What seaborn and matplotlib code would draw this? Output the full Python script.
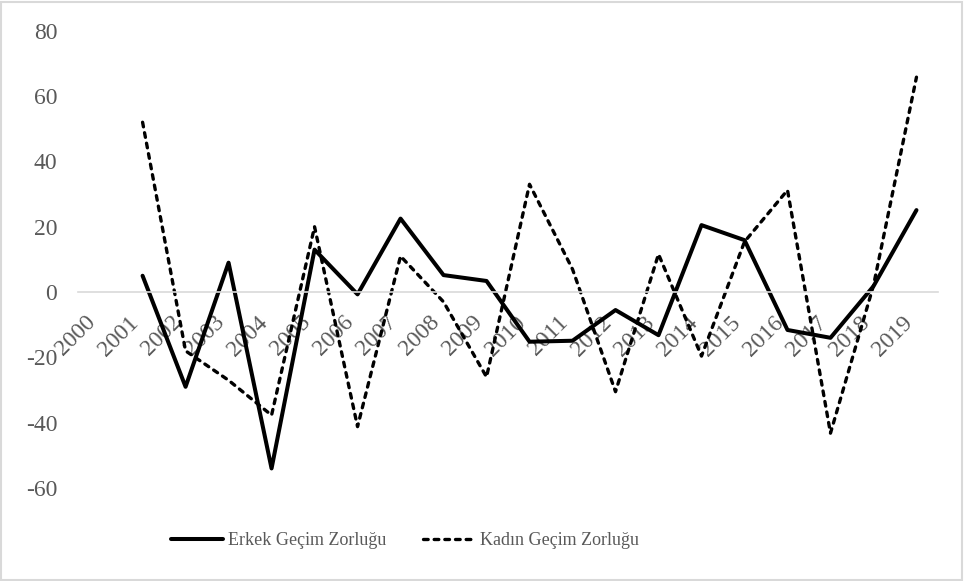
import pandas as pd
import numpy as np
import matplotlib
matplotlib.use('Agg')
import matplotlib.pyplot as plt
import seaborn as sns

years = list(range(2000, 2020))
erkek = [np.nan, 5, -29, 9, -54, 13, -0.7, 22.5, 5.2, 3.4,
         -15.2, -14.9, -5.5, -13.2, 20.5, 15.9, -11.6, -14, 1.8, 25.1]
kadin = [np.nan, 52, -18, -27, -37.7, 20, -41.2, 11, -3, -26,
         33, 7, -30.5, 11.6, -19.6, 15.4, 31.2, -43.2, 2, 65.8]
y_ticks = [-60, -40, -20, 0, 20, 40, 60, 80]

df = pd.DataFrame({'year': years, 'Erkek Geçim Zorluğu': erkek, 'Kadın Geçim Zorluğu': kadin})

sns.set_style('white')
plt.rcParams['font.family'] = ['Liberation Serif', 'DejaVu Serif']
plt.rcParams['axes.unicode_minus'] = False
text_grey = '#595959'

fig = plt.figure(figsize=(9.64, 5.81), dpi=100)
ax = fig.add_axes([0.081, 0.160, 0.892, 0.787])

sns.lineplot(data=df, x='year', y='Erkek Geçim Zorluğu', ax=ax, color='black',
             linewidth=2.9, label='Erkek Geçim Zorluğu')
sns.lineplot(data=df, x='year', y='Kadın Geçim Zorluğu', ax=ax, color='black',
             linewidth=2.4, dashes=(1.4, 1.8), dash_capstyle='round',
             label='Kadın Geçim Zorluğu')

for s in ['top', 'right', 'left']:
    ax.spines[s].set_visible(False)
ax.spines['bottom'].set_position(('data', 0))
ax.spines['bottom'].set_color('#d9d9d9')
ax.spines['bottom'].set_linewidth(1.2)

ax.set_xlim(1999.5, 2019.5)
ax.set_ylim(-60, 80)
ax.set_yticks(y_ticks)
ax.set_xticks(years)
ax.set_xticklabels([str(y) for y in years], rotation=45, ha='right', va='bottom',
                   rotation_mode='anchor', fontsize=17, color=text_grey)
ax.tick_params(axis='x', length=0, pad=25)
ax.tick_params(axis='y', length=0, labelsize=17, labelcolor=text_grey, pad=15)
ax.set_xlabel('')
ax.set_ylabel('')

ax.legend(loc='center', bbox_to_anchor=(0.42, 0.07), bbox_transform=fig.transFigure,
          ncol=2, frameon=False, fontsize=13, handlelength=2.9, columnspacing=2.0,
          handletextpad=0.28, labelcolor=text_grey)

# chart area border
fig.patches.append(plt.Rectangle((0.001, 0.002), 0.997, 0.995, transform=fig.transFigure,
                                 fill=False, edgecolor='#d9d9d9', linewidth=1.5))

plt.savefig('out.png', dpi=100)
